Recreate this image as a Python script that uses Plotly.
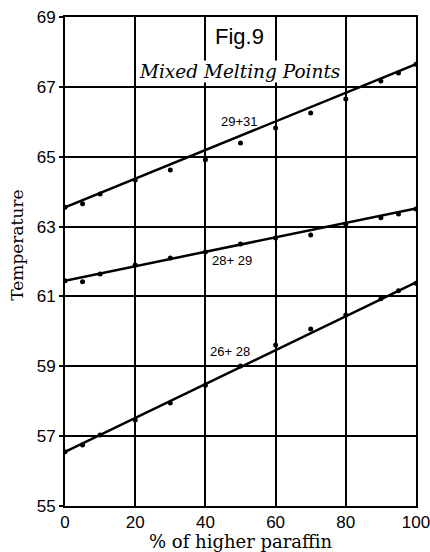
import plotly.graph_objects as go

pct = [0, 5, 10, 20, 30, 40, 50, 60, 70, 80, 90, 95, 100]
s_29_31 = [63.55, 63.65, 63.93, 64.33, 64.62, 64.91, 65.39, 65.82, 66.25, 66.65, 67.17, 67.40, 67.65]
s_28_29 = [61.45, 61.42, 61.64, 61.90, 62.10, 62.27, 62.50, 62.67, 62.76, 63.07, 63.25, 63.36, 63.50]
s_26_28 = [56.55, 56.75, 57.03, 57.46, 57.95, 58.46, 59.01, 59.61, 60.07, 60.47, 60.93, 61.16, 61.38]

fit_x = [0, 100]
fit_29_31 = [63.55, 67.65]
fit_28_29 = [61.45, 63.52]
fit_26_28 = [56.55, 61.40]

labels = ["29+31", "28+ 29", "26+ 28"]
label_x = [49.7, 47.6, 47.0]
label_y = [66.0, 62.04, 59.41]

x_ticks = [0, 20, 40, 60, 80, 100]
y_ticks = [55, 57, 59, 61, 63, 65, 67, 69]

fig = go.Figure()
for fy in [fit_29_31, fit_28_29, fit_26_28]:
    fig.add_trace(go.Scatter(x=fit_x, y=fy, mode="lines",
                             line=dict(color="black", width=2.5), showlegend=False, hoverinfo="skip"))
for sy in [s_29_31, s_28_29, s_26_28]:
    fig.add_trace(go.Scatter(x=pct, y=sy, mode="markers",
                             marker=dict(color="black", size=5), showlegend=False))

for t, lx, ly in zip(labels, label_x, label_y):
    fig.add_annotation(x=lx, y=ly, text=t, showarrow=False,
                       font=dict(family="Liberation Sans Narrow, Liberation Sans, Arial", size=13, color="black"))

fig.add_annotation(x=49.8, y=68.43, text="Fig.9", showarrow=False,
                   font=dict(family="Liberation Sans, Arial", size=22, color="black"))
fig.add_annotation(x=49.6, y=67.45, text="<i>Mixed Melting Points</i>", showarrow=False,
                   bgcolor="white", borderpad=0,
                   font=dict(family="DejaVu Serif, Liberation Serif, serif", size=18.5, color="black"))

fig.add_annotation(xref="paper", yref="paper", x=-0.137, y=0.534, xanchor="center", yanchor="middle",
                   text="Temperature", textangle=-90, showarrow=False,
                   font=dict(family="DejaVu Serif, Liberation Serif, serif", size=17, color="black"))
fig.add_annotation(xref="paper", yref="paper", x=0.5, y=-0.0716, xanchor="center", yanchor="middle",
                   text="% of higher paraffin", showarrow=False,
                   font=dict(family="DejaVu Serif, Liberation Serif, serif", size=18, color="black"))

fig.update_xaxes(range=[0, 100], tickvals=x_ticks, showgrid=True, gridcolor="black", gridwidth=2,
                 showline=True, linecolor="black", linewidth=2, mirror=True, zeroline=False,
                 ticks="", automargin=False, ticklabeloverflow="allow",
                 tickfont=dict(family="Liberation Sans, Arial", size=17, color="black"))
fig.update_yaxes(range=[55, 69], tickvals=y_ticks, showgrid=True, gridcolor="black", gridwidth=2,
                 showline=True, linecolor="black", linewidth=2, mirror=True, zeroline=False,
                 ticks="outside", ticklen=4, tickwidth=2, tickcolor="black", ticklabelstandoff=0,
                 automargin=False, ticklabeloverflow="allow",
                 tickfont=dict(family="Liberation Sans, Arial", size=17, color="black"))

fig.update_layout(width=430, height=552, margin=dict(l=65, r=14, t=17, b=46, autoexpand=False),
                  paper_bgcolor="white", plot_bgcolor="white")
fig.write_html("out.html", config={"displayModeBar": False},
               post_script="document.body.style.margin='0';document.body.style.overflow='hidden';")
